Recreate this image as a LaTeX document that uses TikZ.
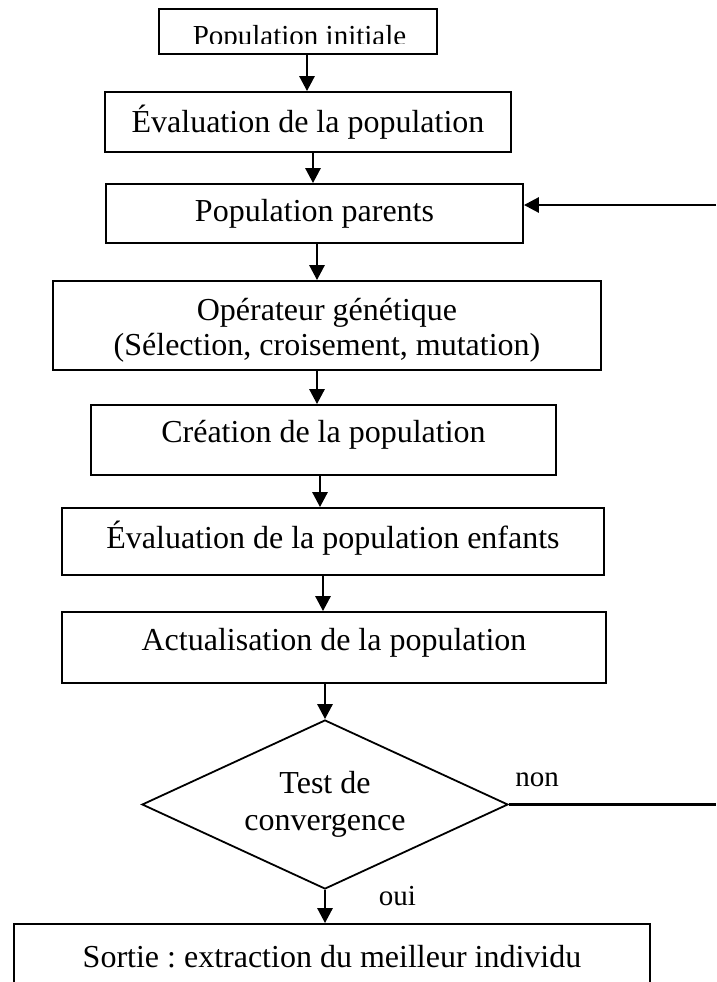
\documentclass[tikz,border=0pt]{standalone}
\usepackage{fontspec}
\setmainfont{Liberation Serif}
\frenchspacing
\usetikzlibrary{arrows.meta,shapes.geometric}
\begin{document}
\begin{tikzpicture}[x=1pt,y=-1pt,
  stepbox/.style={draw, line width=1.8pt, inner sep=0pt, align=center,
    font=\fontsize{32}{35}\selectfont},
  boxtext/.style={inner sep=0pt, align=center, font=\fontsize{32}{35}\selectfont},
  decision/.style={draw, diamond, line width=1.8pt, inner sep=0pt, aspect=2.17,
    align=center, font=\fontsize{32}{37}\selectfont},
  flow/.style={line width=2.8pt, -{Triangle[length=15pt,width=15pt]}},
  plainline/.style={line width=2.2pt},
  lbl/.style={inner sep=0pt, font=\fontsize{29}{32}\selectfont}]
\useasboundingbox (0,0) rectangle (716,982);
\clip (0,0) rectangle (716,982);
\fill[white] (0,0) rectangle (716,982);

% process boxes
\node[stepbox, minimum width=278, minimum height=45] (b1) at (298,31.5) {};
\begin{scope}
  \clip (159,9) rectangle (437,43.5);
  \node[anchor=base, inner sep=0pt, font=\fontsize{29}{32}\selectfont] (t1) at (299.5,46) {Population initiale};
\end{scope}
\node[stepbox, minimum width=406, minimum height=60] (b2) at (308,122) {Évaluation de la population};
\node[stepbox, minimum width=417, minimum height=59] (b3) at (314.5,213.5) {Population parents};
\node[stepbox, minimum width=548, minimum height=89] (b4) at (326.75,325.5) {};
\node[boxtext] (t4) at (327,330) {Opérateur génétique\\(Sélection, croisement, mutation)};
\node[stepbox, text depth=17pt, minimum width=465, minimum height=70] (b5) at (323.5,440) {Création de la population};
\node[stepbox, text depth=13pt, minimum width=542, minimum height=67] (b6) at (333,541.5) {Évaluation de la population enfants};
\node[stepbox, text depth=17pt, minimum width=544, minimum height=71] (b7) at (334,647.5) {Actualisation de la population};
\node[decision, minimum width=366, minimum height=169] (dia) at (325,804.5) {Test de\\convergence};
\node[stepbox, minimum width=636, minimum height=66] (fin) at (332,957) {Sortie : extraction du meilleur individu};

% columns of the vertical connectors
\coordinate (k1) at (307,0);
\coordinate (k2) at (313,0);
\coordinate (k3) at (317,0);
\coordinate (k4) at (317,0);
\coordinate (k5) at (320,0);
\coordinate (k6) at (323,0);
\coordinate (rim) at (716,0);
\coordinate (back) at (716,205);

\draw[flow] (b1.south -| k1) -- (b2.north -| k1);
\draw[flow] (b2.south -| k2) -- (b3.north -| k2);
\draw[flow] (b3.south -| k3) -- (b4.north -| k3);
\draw[flow] (b4.south -| k4) -- (b5.north -| k4);
\draw[flow] (b5.south -| k5) -- (b6.north -| k5);
\draw[flow] (b6.south -| k6) -- (b7.north -| k6);
\draw[flow] (b7.south -| dia.north) -- (dia.north);
\draw[flow] (dia.south) -- (fin.north -| dia.south);

% loop back to the parent population
\draw[plainline] (dia.east) -- (dia.east -| rim);
\draw[flow] (back) -- (back -| b3.east);

\node[lbl] (non) at (537,780) {non};
\node[lbl] (oui) at (397.5,896) {oui};
\end{tikzpicture}
\end{document}
